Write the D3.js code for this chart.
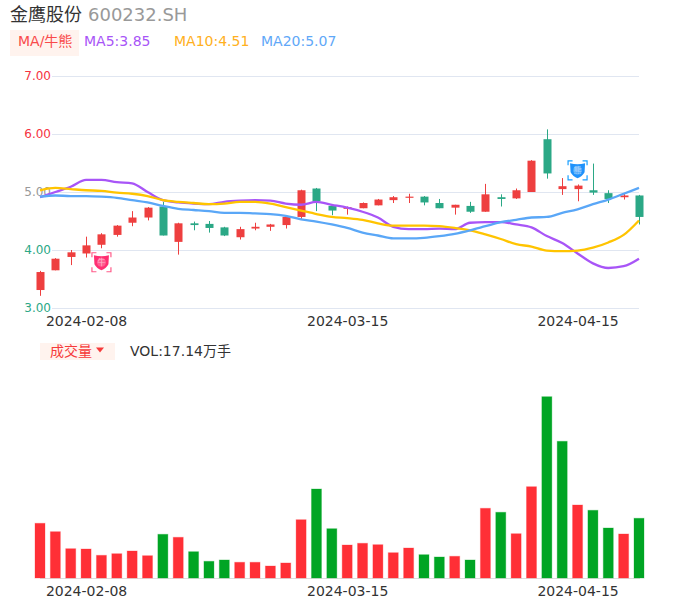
<!DOCTYPE html>
<html>
<head>
<meta charset="utf-8">
<script src="https://cdnjs.cloudflare.com/ajax/libs/d3/7.8.5/d3.min.js"></script>
<style>
html,body{margin:0;padding:0;background:#fff;}
svg{display:block;font-family:"DejaVu Sans","Noto Sans CJK SC",sans-serif;}
</style>
</head>
<body>
<svg id="chart" width="686" height="606"></svg>
<script>
const stockName = "金鹰股份";
const stockCode = "600232.SH";
const priceTicks = [3, 4, 5, 6, 7];
const dateTickIndex = [3, 20, 35];
const dateTickLabels = ["2024-02-08", "2024-03-15", "2024-04-15"];

const open  = [3.31,3.65,3.88,3.94,4.09,4.26,4.47,4.56,4.75,4.14,4.46,4.45,4.39,4.22,4.37,4.40,4.43,4.57,5.06,4.76,4.71,4.72,4.77,4.86,4.90,4.92,4.81,4.73,4.76,4.66,4.91,4.89,5.00,5.91,5.05,5.05,5.03,4.98,4.91,4.94];
const close = [3.62,3.85,3.96,4.08,4.27,4.42,4.56,4.73,4.25,4.46,4.43,4.38,4.25,4.36,4.40,4.44,4.57,5.03,4.84,4.68,4.74,4.81,4.87,4.91,4.92,4.82,4.72,4.78,4.66,4.96,4.88,5.03,5.54,5.32,5.10,5.11,4.99,4.88,4.94,4.57];
const high  = [3.64,3.86,4.00,4.23,4.29,4.43,4.67,4.74,4.83,4.47,4.49,4.50,4.40,4.40,4.47,4.45,4.58,5.04,5.07,4.77,4.75,4.82,4.88,4.93,4.97,4.93,4.88,4.78,4.83,5.14,4.96,5.06,5.55,6.08,5.24,5.13,5.49,5.03,4.97,4.95];
const low   = [3.21,3.65,3.74,3.87,4.03,4.23,4.41,4.51,4.25,3.92,4.34,4.30,4.24,4.18,4.34,4.33,4.37,4.53,4.67,4.60,4.61,4.72,4.77,4.81,4.81,4.77,4.72,4.61,4.64,4.66,4.75,4.88,5.00,5.23,4.95,4.84,4.95,4.81,4.87,4.44];

const ma5  = [4.91,5.00,5.09,5.21,5.21,5.17,5.15,5.00,4.86,4.82,4.80,4.79,4.83,4.85,4.86,4.85,4.80,4.78,4.83,4.78,4.73,4.66,4.56,4.40,4.36,4.36,4.37,4.36,4.47,4.48,4.48,4.44,4.39,4.24,4.12,3.94,3.77,3.69,3.72,3.85];
const ma10 = [5.03,5.07,5.05,5.03,5.02,4.99,4.97,4.93,4.86,4.83,4.81,4.79,4.80,4.83,4.83,4.80,4.74,4.68,4.62,4.57,4.55,4.52,4.46,4.42,4.42,4.42,4.41,4.38,4.34,4.27,4.19,4.10,4.06,3.99,3.98,3.99,4.04,4.13,4.26,4.51];
const ma20 = [4.92,4.94,4.93,4.93,4.92,4.90,4.86,4.82,4.76,4.71,4.69,4.67,4.64,4.64,4.63,4.62,4.59,4.53,4.49,4.44,4.38,4.30,4.25,4.20,4.20,4.21,4.24,4.28,4.34,4.41,4.48,4.52,4.56,4.57,4.64,4.70,4.79,4.87,4.97,5.07];

const volume = [15.70,13.29,8.41,8.32,6.51,6.97,7.75,6.40,12.54,11.68,7.55,4.79,5.17,4.51,4.51,3.44,4.31,16.73,25.54,14.15,9.47,9.96,9.56,7.26,8.61,6.69,6.03,6.23,5.17,20.00,18.86,12.71,26.20,52.03,39.23,20.95,19.43,14.35,12.63,17.14];
const volumeUp = [1,1,1,1,1,1,1,1,0,1,0,0,0,1,1,1,1,1,0,0,1,1,1,1,1,0,0,1,0,1,0,1,1,0,0,1,0,0,1,0];

const maSeries = [
  {label:"MA5:3.85",  values:ma5,  color:"#a855f7", legend:"#a855f7", lx:84},
  {label:"MA10:4.51", values:ma10, color:"#ffc400", legend:"#ffb020", lx:174},
  {label:"MA20:5.07", values:ma20, color:"#5aa7f7", legend:"#5fa8f8", lx:261}
];
const signals = [
  {index:4,  text:"牛", color:"#ff2f72", frame:"#ff5c8a", dy:14},
  {index:35, text:"熊", color:"#1f92fb", frame:"#1aa0ff", dy:-31}
];

const UP = "#ee3f3f", DOWN = "#2ba886";
const svg = d3.select("#chart");
const idx = d3.range(open.length);
const x = d3.scaleLinear().domain([0, open.length - 1]).range([40, 639]);
const y = d3.scaleLinear().domain([3, 7]).range([308, 76]);
const v = d3.scaleLinear().domain([0, d3.max(volume)]).range([578, 396.7]);

/* header */
svg.append("text").attr("x",10).attr("y",21).attr("font-size",18).attr("fill","#333").text(stockName);
svg.append("text").attr("x",88).attr("y",21).attr("font-size",18).attr("fill","#999").text(stockCode);
svg.append("rect").attr("x",10).attr("y",30).attr("width",69).attr("height",26).attr("fill","#fff3ee");
svg.append("text").attr("x",18).attr("y",46).attr("font-size",14).attr("fill","#f94a4a").text("MA/牛熊");
svg.selectAll("text.leg").data(maSeries).join("text").attr("class","leg")
  .attr("x",d=>d.lx).attr("y",46).attr("font-size",14).attr("fill",d=>d.legend).text(d=>d.label);

/* price axis + grid */
const yAxis = svg.append("g").attr("transform","translate(52,0)")
  .call(d3.axisLeft(y).tickValues(priceTicks).tickFormat(d3.format(".2f")).tickSize(-587).tickPadding(1));
yAxis.select(".domain").remove();
yAxis.selectAll("line").attr("stroke","#e0e6f1");
yAxis.selectAll("text").attr("font-size",12).attr("font-family",'"DejaVu Sans"')
  .attr("fill",d=>d>5?"#f5333f":d<5?"#2ba886":"#999");

const xAxisFn = () => d3.axisBottom(x).tickValues(dateTickIndex).tickFormat((d,i)=>dateTickLabels[i]).tickSize(0);
function styleX(g){
  g.select(".domain").remove();
  g.selectAll("text").attr("font-size",14).attr("font-family",'"DejaVu Sans"').attr("fill","#333");
}
svg.append("g").attr("transform","translate(0,313)").call(xAxisFn()).call(styleX);
svg.append("g").attr("transform","translate(0,583)").call(xAxisFn()).call(styleX);

/* candles */
const col = i => close[i] >= open[i] ? UP : DOWN;
const candles = svg.append("g");
candles.selectAll("line").data(idx).join("line")
  .attr("x1",i=>Math.round(x(i))+.5).attr("x2",i=>Math.round(x(i))+.5)
  .attr("y1",i=>y(high[i])).attr("y2",i=>y(low[i]))
  .attr("stroke",col).attr("stroke-width",1);
candles.selectAll("rect").data(idx).join("rect")
  .attr("x",i=>Math.round(x(i))+.5-4).attr("width",8)
  .attr("y",i=>y(Math.max(open[i],close[i])))
  .attr("height",i=>Math.max(1,Math.abs(y(open[i])-y(close[i]))))
  .attr("fill",col);

/* moving averages */
const line = d3.line().x((d,i)=>x(i)).y(d=>y(d)).curve(d3.curveMonotoneX);
svg.append("g").selectAll("path").data(maSeries).join("path")
  .attr("d",d=>line(d.values)).attr("fill","none")
  .attr("stroke",d=>d.color).attr("stroke-width",2.3);

/* bull / bear signals */
const sg = svg.append("g").selectAll("g").data(signals).join("g")
  .attr("transform",d=>`translate(${x(d.index)},${y(low[d.index])+d.dy})`);
sg.append("path").attr("fill","none").attr("stroke",d=>d.frame).attr("stroke-width",1.2)
  .attr("d","M-9.5,-5V-9.5H-5M5,-9.5H9.5V-5M9.5,5V9.5H5M-5,9.5H-9.5V5");
sg.append("path").attr("fill",d=>d.color)
  .attr("d","M-7.5,-7Q0,-5 7.5,-7L7,2Q4.5,6.5 0,8Q-4.5,6.5 -7,2Z");
sg.append("circle").attr("r",4.5).attr("fill","#fff").attr("opacity",.22);
sg.append("text").attr("text-anchor","middle").attr("y",3).attr("font-size",8)
  .attr("fill","#fff").attr("fill-opacity",.55).text(d=>d.text);

/* volume header */
svg.append("rect").attr("x",40).attr("y",343).attr("width",75).attr("height",17).attr("fill","#fff3ee");
svg.append("text").attr("x",50).attr("y",356).attr("font-size",14).attr("fill","#f63a3a").text("成交量");
svg.append("path").attr("d","M96,347.5H104L100,352.5Z").attr("fill","#f63a3a");
svg.append("text").attr("x",130).attr("y",356).attr("font-size",14).attr("fill","#333").text("VOL:17.14万手");

/* volume */
svg.append("line").attr("x1",40).attr("x2",640).attr("y1",578.5).attr("y2",578.5).attr("stroke","#ddd");
svg.append("g").selectAll("rect").data(idx).join("rect")
  .attr("x",i=>x(i)-5).attr("width",10)
  .attr("y",i=>v(volume[i])).attr("height",i=>v(0)-v(volume[i]))
  .attr("fill",i=>volumeUp[i]?"#ff2f36":"#00a524")
  .attr("stroke",i=>volumeUp[i]?"rgba(255,47,54,.3)":"rgba(0,165,36,.3)").attr("stroke-width",1);
</script>
</body>
</html>
